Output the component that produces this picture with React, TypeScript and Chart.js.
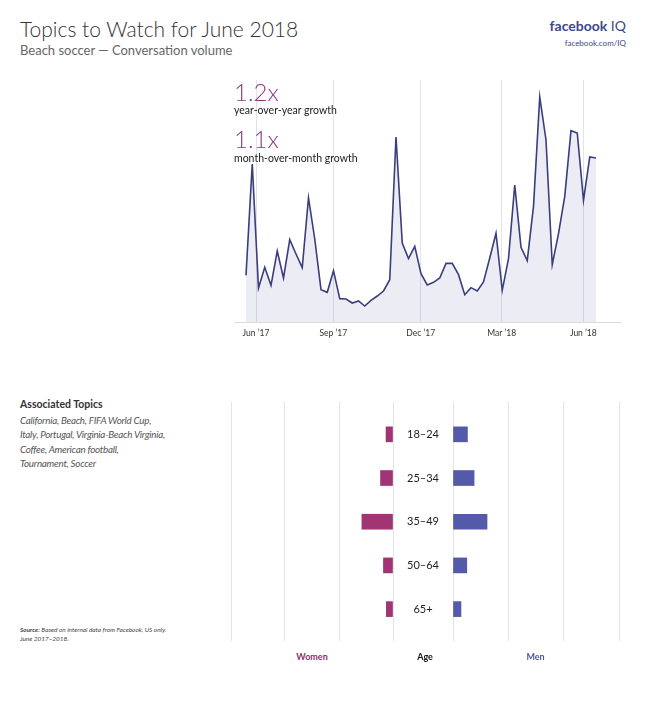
import React, { useEffect, useRef } from "react";
import { Chart, registerables } from "chart.js";

Chart.register(...registerables);

// ---- Data ----
const weeklyVolume = [
  140, 474, 102, 164, 110, 213, 132, 247, 204, 163,
  372, 249, 97, 89, 154, 70, 69, 57, 63, 48,
  65, 78, 93, 127, 555, 237, 190, 227, 145, 111,
  119, 132, 176, 176, 142, 82, 103, 93, 120, 192,
  266, 95, 190, 411, 224, 184, 347, 675, 546, 172,
  265, 377, 574, 567, 365, 495, 492,
];
const monthTickWeeks = [1.6, 13.97, 27.95, 40.9, 53.97];
const monthLabels = ["Jun ’17", "Sep ’17", "Dec ’17", "Mar ’18", "Jun ’18"];

const ageGroups = ["18–24", "25–34", "35–49", "50–64", "65+"];
const womenShare = [4.3, 7.7, 19.2, 5.9, 4.1];
const menShare = [8.7, 12.7, 20.5, 8.3, 4.8];
const shareGridSteps = [0, 100 / 3, 200 / 3, 100];

const FONT = "Lato, 'Open Sans', sans-serif";

function LineChart() {
  const ref = useRef<HTMLCanvasElement | null>(null);
  useEffect(() => {
    if (!ref.current) return;
    const chart = new Chart(ref.current, {
      type: "line",
      data: {
        datasets: [
          {
            data: weeklyVolume.map((v, i) => ({ x: i, y: v })),
            borderColor: "#3b3e7c",
            borderWidth: 1.6,
            backgroundColor: "rgba(70,70,160,0.1)",
            fill: "origin",
            pointRadius: 0,
            tension: 0,
          },
        ],
      },
      options: {
        animation: false,
        responsive: true,
        maintainAspectRatio: false,
        layout: { padding: 0 },
        plugins: { legend: { display: false }, tooltip: { enabled: false } },
        scales: {
          x: {
            type: "linear",
            min: -1.92,
            max: 60.16,
            afterBuildTicks: (s: any) => {
              s.ticks = monthTickWeeks.map((v) => ({ value: v }));
            },
            afterFit: (s: any) => {
              s.height = 22;
            },
            ticks: {
              callback: (_v: any, i: number) => monthLabels[i],
              font: { family: FONT, size: 8.5 },
              color: "#333",
              padding: 6,
              maxRotation: 0,
              autoSkip: false,
            },
            grid: { color: "#e2e2ea", drawTicks: false, lineWidth: 1 },
            border: { color: "#dcdcdc" },
          },
          y: { display: false, min: 0, max: 726 },
        },
      },
    });
    return () => chart.destroy();
  }, []);
  return (
    <div style={{ position: "absolute", left: 234, top: 80, width: 388, height: 264 }}>
      <canvas ref={ref} />
    </div>
  );
}

// Draws the age-group labels centred in the gap left of the men's bars,
// positioned through the chart's own y scale.
const ageLabelPlugin = {
  id: "ageLabels",
  afterDraw(chart: any) {
    const { ctx, chartArea, scales } = chart;
    const cx = chartArea.left - 30;
    ctx.save();
    ctx.font = `11px ${FONT}`;
    ctx.fillStyle = "#222";
    ctx.textAlign = "center";
    ctx.textBaseline = "middle";
    ageGroups.forEach((label, i) => {
      ctx.fillText(label, cx, scales.y.getPixelForValue(i));
    });
    ctx.restore();
  },
};

function BarSide({ side }: { side: "women" | "men" }) {
  const ref = useRef<HTMLCanvasElement | null>(null);
  useEffect(() => {
    if (!ref.current) return;
    const isWomen = side === "women";
    const values = isWomen ? womenShare : menShare;
    const chart = new Chart(ref.current, {
      type: "bar",
      data: {
        datasets: [
          {
            data: values.map((v, i) => ({ x: v, y: i })),
            backgroundColor: isWomen ? "#a13574" : "#5459aa",
            barThickness: 15,
          },
        ],
      },
      plugins: isWomen ? [] : [ageLabelPlugin],
      options: {
        animation: false,
        responsive: true,
        maintainAspectRatio: false,
        indexAxis: "y",
        layout: { padding: { left: isWomen ? 4 : 60, right: 4, top: 0, bottom: 0 } },
        plugins: { legend: { display: false }, tooltip: { enabled: false } },
        scales: {
          x: {
            type: "linear",
            min: 0,
            max: 100,
            reverse: isWomen,
            afterBuildTicks: (s: any) => {
              s.ticks = shareGridSteps.map((v) => ({ value: v }));
            },
            afterFit: (s: any) => {
              s.height = 0;
            },
            ticks: { display: false },
            grid: { color: "#e4e4e4", drawTicks: false, lineWidth: 1 },
            border: { display: false },
          },
          y: {
            type: "linear",
            offset: false,
            min: -0.74,
            max: 4.73,
            reverse: true,
            display: false,
            afterBuildTicks: (s: any) => {
              s.ticks = ageGroups.map((_, i) => ({ value: i }));
            },
            grid: { display: false, drawTicks: false, offset: false },
          },
        },
      },
    });
    return () => chart.destroy();
  }, [side]);
  const style: React.CSSProperties =
    side === "women"
      ? { position: "absolute", left: 227, top: 402, width: 170, height: 239 }
      : { position: "absolute", left: 393, top: 402, width: 230, height: 239 };
  return (
    <div style={style}>
      <canvas ref={ref} />
    </div>
  );
}

const abs = (s: React.CSSProperties): React.CSSProperties => ({
  position: "absolute",
  whiteSpace: "nowrap",
  lineHeight: 1,
  ...s,
});

export default function App() {
  return (
    <div
      style={{
        position: "absolute",
        left: 0,
        top: 0,
        width: 650,
        height: 719,
        overflow: "hidden",
        background: "#fff",
        fontFamily: FONT,
      }}
    >
      <div style={abs({ left: 20, top: 18, fontSize: 21, fontWeight: 300, color: "#333" })}>
        Topics to Watch for June 2018
      </div>
      <div style={abs({ left: 20, top: 44, fontSize: 13, fontWeight: 400, color: "#666" })}>
        Beach soccer — Conversation volume
      </div>
      <div style={abs({ right: 24, top: 19, fontSize: 14, color: "#3d4787", textAlign: "right" })}>
        <span style={{ fontWeight: 700 }}>facebook</span> <span style={{ fontWeight: 400 }}>IQ</span>
      </div>
      <div style={abs({ right: 24, top: 38.5, fontSize: 8, color: "#3d4787", textAlign: "right" })}>
        facebook.com/IQ
      </div>

      <LineChart />

      <div style={abs({ left: 234, top: 79.5, fontSize: 24, fontWeight: 300, color: "#8c3c7f" })}>1.2x</div>
      <div style={abs({ left: 234, top: 104.7, fontSize: 10.5, color: "#222" })}>year-over-year growth</div>
      <div style={abs({ left: 234, top: 126.7, fontSize: 24, fontWeight: 300, color: "#8c3c7f" })}>1.1x</div>
      <div style={abs({ left: 234, top: 152.7, fontSize: 10.5, color: "#222" })}>month-over-month growth</div>

      <div style={abs({ left: 20, top: 398.7, fontSize: 10.5, fontWeight: 700, color: "#333" })}>
        Associated Topics
      </div>
      <div
        style={abs({
          left: 20,
          top: 413,
          fontSize: 9.8,
          letterSpacing: "-0.25px",
          lineHeight: "14.3px",
          fontStyle: "italic",
          color: "#555",
        })}
      >
        California, Beach, FIFA World Cup,
        <br />
        Italy, Portugal, Virginia-Beach Virginia,
        <br />
        Coffee, American football,
        <br />
        Tournament, Soccer
      </div>

      <div
        style={abs({
          left: 20,
          top: 624.5,
          fontSize: 6.4,
          lineHeight: "9px",
          fontStyle: "italic",
          color: "#444",
        })}
      >
        <span style={{ fontWeight: 700 }}>Source:</span> Based on internal data from Facebook, US only.
        <br />
        June 2017–2018.
      </div>

      <BarSide side="women" />
      <BarSide side="men" />

      <div style={abs({ left: 262, width: 100, textAlign: "center", top: 652, fontSize: 9, fontWeight: 700, color: "#8e2f6d" })}>
        Women
      </div>
      <div style={abs({ left: 375, width: 100, textAlign: "center", top: 652, fontSize: 9, fontWeight: 700, color: "#111" })}>
        Age
      </div>
      <div style={abs({ left: 485.5, width: 100, textAlign: "center", top: 652, fontSize: 9, fontWeight: 700, color: "#5257a0" })}>
        Men
      </div>
    </div>
  );
}
